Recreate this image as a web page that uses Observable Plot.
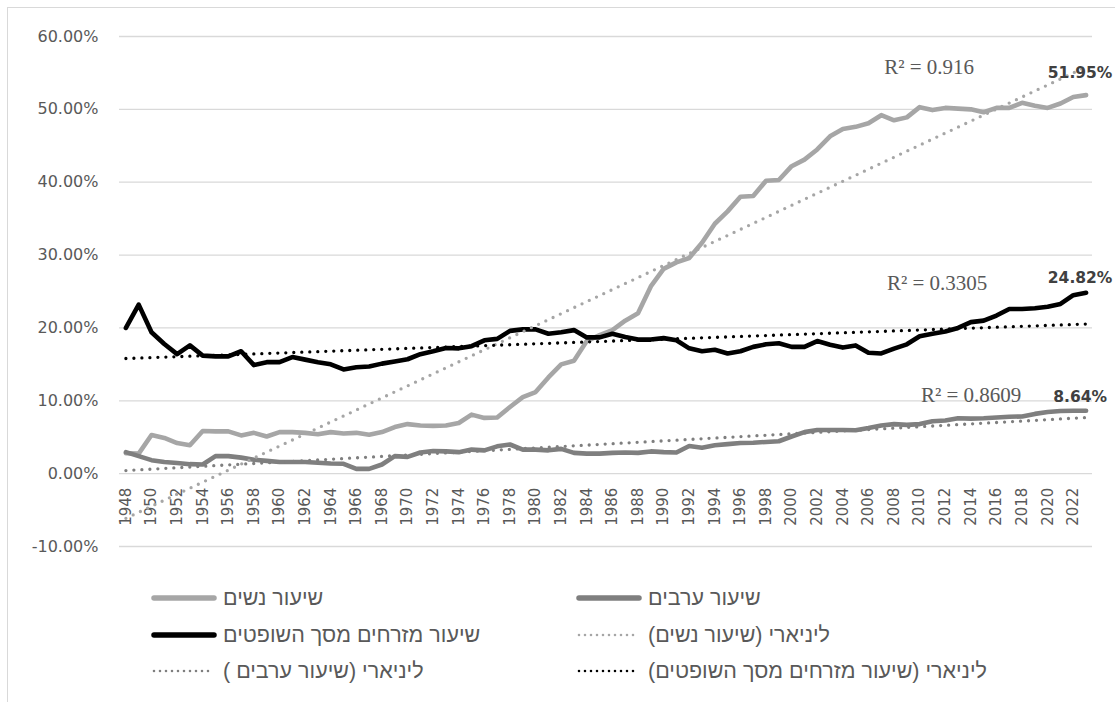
<!DOCTYPE html>
<html><head><meta charset="utf-8">
<script src="https://cdn.jsdelivr.net/npm/d3@7"></script>
<script src="https://cdn.jsdelivr.net/npm/@observablehq/plot@0.6"></script>
<style>
html,body{margin:0;padding:0;background:#fff;}
body{width:1115px;height:702px;overflow:hidden;position:relative;font-family:"DejaVu Sans",sans-serif;}
#frame{position:absolute;left:7px;top:7px;width:1300px;height:900px;border:1px solid #d9d9d9;box-sizing:border-box;}
#chart{position:absolute;left:0;top:0;}
.item{position:absolute;display:flex;align-items:center;height:30px;}
.item svg{display:block;flex:none;}
.item span{font-family:"Liberation Sans",sans-serif;font-size:21.5px;color:#595959;white-space:nowrap;margin-left:5px;}
</style></head><body>
<div id="frame"></div>
<div id="chart"></div>
<div id="legend"></div>
<script>
// ---- data ----
const years = [1948,1949,1950,1951,1952,1953,1954,1955,1956,1957,1958,1959,1960,1961,1962,1963,1964,1965,1966,1967,1968,1969,1970,1971,1972,1973,1974,1975,1976,1977,1978,1979,1980,1981,1982,1983,1984,1985,1986,1987,1988,1989,1990,1991,1992,1993,1994,1995,1996,1997,1998,1999,2000,2001,2002,2003,2004,2005,2006,2007,2008,2009,2010,2011,2012,2013,2014,2015,2016,2017,2018,2019,2020,2021,2022,2023];
const women = [2.8,2.75,5.3,4.9,4.2,3.9,5.85,5.8,5.8,5.25,5.6,5.1,5.7,5.7,5.6,5.4,5.7,5.5,5.6,5.35,5.7,6.4,6.8,6.6,6.55,6.6,6.95,8.1,7.65,7.7,9.15,10.5,11.2,13.2,15.0,15.5,18.2,19.0,19.7,21.0,22.0,25.7,28.1,29.0,29.6,31.7,34.3,36.0,38.0,38.1,40.2,40.3,42.2,43.1,44.5,46.3,47.3,47.6,48.1,49.2,48.5,48.9,50.3,49.9,50.2,50.1,50.0,49.6,50.2,50.2,50.9,50.5,50.2,50.8,51.7,51.95];
const arabs = [2.95,2.4,1.85,1.6,1.45,1.3,1.25,2.4,2.4,2.2,1.9,1.75,1.6,1.6,1.6,1.5,1.4,1.35,0.65,0.65,1.25,2.4,2.3,2.9,3.1,3.05,2.95,3.3,3.2,3.75,4.0,3.3,3.3,3.2,3.4,2.85,2.75,2.75,2.85,2.9,2.85,3.05,2.95,2.9,3.8,3.55,3.9,4.05,4.2,4.25,4.35,4.45,5.1,5.7,6.0,6.0,6.0,5.95,6.25,6.6,6.8,6.7,6.8,7.2,7.3,7.6,7.55,7.6,7.7,7.8,7.85,8.2,8.45,8.6,8.64,8.64];
const mizrahim = [20.0,23.2,19.4,17.8,16.4,17.6,16.2,16.1,16.1,16.8,14.9,15.3,15.3,16.0,15.65,15.3,15.0,14.3,14.6,14.7,15.1,15.4,15.7,16.4,16.8,17.25,17.2,17.5,18.3,18.5,19.6,19.8,19.8,19.2,19.4,19.7,18.7,18.7,19.2,18.75,18.4,18.4,18.6,18.3,17.2,16.8,17.0,16.5,16.8,17.4,17.75,17.9,17.4,17.4,18.2,17.7,17.3,17.6,16.6,16.5,17.15,17.75,18.85,19.2,19.5,20.0,20.8,21.0,21.7,22.6,22.6,22.7,22.9,23.3,24.5,24.82];
const yTicks = [-10,0,10,20,30,40,50,60];
const xTickYears = [1948,1950,1952,1954,1956,1958,1960,1962,1964,1966,1968,1970,1972,1974,1976,1978,1980,1982,1984,1986,1988,1990,1992,1994,1996,1998,2000,2002,2004,2006,2008,2010,2012,2014,2016,2018,2020,2022];
const seriesNames = ["שיעור נשים","שיעור ערבים","שיעור מזרחים מסך השופטים"];
const trendNames = ["ליניארי (שיעור נשים)","ליניארי (שיעור ערבים )","ליניארי (שיעור מזרחים מסך השופטים)"];
const r2Labels = ["R² = 0.916","R² = 0.8609","R² = 0.3305"];

// ---- build ----
const rows = vals => years.map((year,i)=>({year, v: vals[i]}));
const W = rows(women), A = rows(arabs), M = rows(mizrahim);
const colors = ["#a6a6a6","#7f7f7f","#000000"];
const lineStyle = c => ({x:"year", y:"v", stroke:c, strokeWidth:4.6, strokeLinejoin:"round", strokeLinecap:"round"});
const trendStyle = c => ({x:"year", y:"v", stroke:c, strokeWidth:3.3, strokeDasharray:"0,8", strokeLinecap:"round", ci:0});
const last = arr => arr[arr.length-1];
const lastYear = last(years);
const fmt = v => v.toFixed(2) + "%";

const valueLabel = (vals, dy) => Plot.text([last(vals)], {x: () => lastYear, y: d => d, text: d => fmt(d), dx:-6, dy, fontWeight:"bold", fontSize:15.5, fill:"#404040", fontFamily:"DejaVu Sans"});
const r2Label = (label, vals, dx, dy) => Plot.text([label], {x: () => lastYear, y: () => last(vals), text: d => d, dx, dy, fontFamily:"Liberation Serif", fontSize:21, fill:"#595959"});

const chart = Plot.plot({
  width:1115, height:560,
  marginLeft:119, marginRight:23, marginTop:36, marginBottom:14,
  x:{domain:[years[0]-0.5, lastYear+0.5], axis:null},
  y:{domain:[-10,60], axis:null},
  style:{fontFamily:"DejaVu Sans", background:"transparent", overflow:"visible", color:"#595959"},
  marks:[
    Plot.gridY(yTicks, {stroke:"#d9d9d9", strokeOpacity:1, strokeWidth:1.3}),
    Plot.axisY(yTicks, {tickSize:0, tickPadding:21, tickFormat: d => d.toFixed(2)+"%", fontSize:16, fill:"#595959", label:null}),
    Plot.text(xTickYears, {x: d => d, y: () => 0, text: d => String(d), rotate:-90, textAnchor:"end", dy:14, fontSize:15, fill:"#595959"}),
    Plot.line(W, lineStyle(colors[0])),
    Plot.line(A, lineStyle(colors[1])),
    Plot.line(M, lineStyle(colors[2])),
    Plot.linearRegressionY(W, trendStyle(colors[0])),
    Plot.linearRegressionY(A, trendStyle(colors[1])),
    Plot.linearRegressionY(M, trendStyle(colors[2])),
    r2Label(r2Labels[0], women, -157, -28),
    r2Label(r2Labels[2], mizrahim, -149, -10),
    r2Label(r2Labels[1], arabs, -115, -15),
    valueLabel(women, -22),
    valueLabel(mizrahim, -15),
    valueLabel(arabs, -14)
  ]
});
document.getElementById("chart").appendChild(chart);

// ---- legend ----
const legendItems = [
  {name: seriesNames[0], color: colors[0], dotted:false, left:150, top:598},
  {name: seriesNames[1], color: colors[1], dotted:false, left:575, top:598},
  {name: seriesNames[2], color: colors[2], dotted:false, left:150, top:635},
  {name: trendNames[0], color: colors[0], dotted:true, left:575, top:635},
  {name: trendNames[1], color: colors[1], dotted:true, left:150, top:671},
  {name: trendNames[2], color: colors[2], dotted:true, left:575, top:671}
];
const leg = d3.select("#legend");
for (const it of legendItems) {
  const d = leg.append("div").attr("class","item").style("left", it.left+"px").style("top", (it.top-15)+"px");
  const s = d.append("svg").attr("width",68).attr("height",12);
  s.append("line").attr("x1",4).attr("x2",64).attr("y1",6).attr("y2",6)
    .attr("stroke", it.color).attr("stroke-linecap","round")
    .attr("stroke-width", it.dotted ? 2.6 : 5.5)
    .attr("stroke-dasharray", it.dotted ? "0,6" : null);
  d.append("span").attr("dir","rtl").text(it.name);
}
</script>
</body></html>
